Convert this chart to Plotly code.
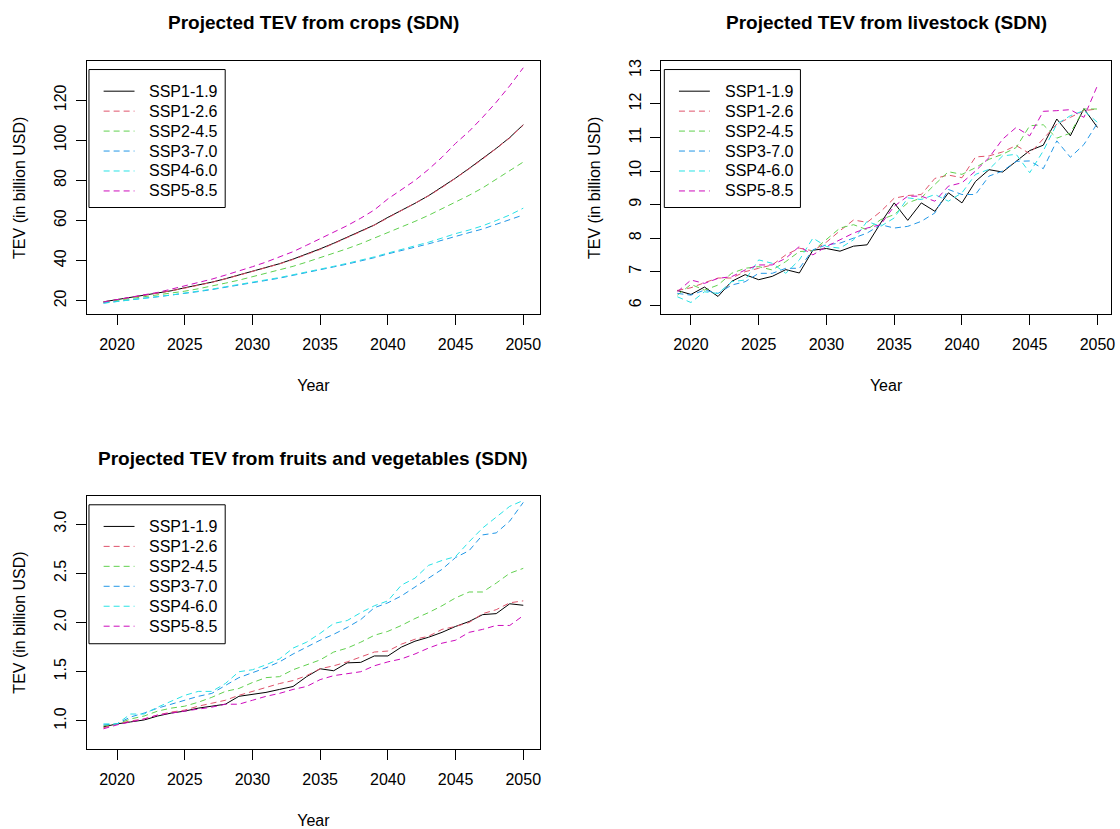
import plotly.graph_objects as go

years = list(range(2019, 2051))
scenarios = ["SSP1-1.9", "SSP1-2.6", "SSP2-4.5", "SSP3-7.0", "SSP4-6.0", "SSP5-8.5"]
colors = ["#000000", "#DF536B", "#61D04F", "#2297E6", "#28E2E5", "#CD0BBC"]
dashes = ["solid", "6px,4px", "6px,4px", "6px,4px", "6px,4px", "6px,4px"]

titles = ["Projected TEV from crops (SDN)",
          "Projected TEV from livestock (SDN)",
          "Projected TEV from fruits and vegetables (SDN)"]
x_title = "Year"
y_title = "TEV (in billion USD)"

# ---- crops ----
crops_ssp119 = [19.5, 20.6, 21.6, 22.6, 23.8, 25.0, 26.5, 27.8, 29.3, 31.0, 32.8, 34.6, 36.5, 38.5, 40.8, 43.2,
                45.9, 48.7, 51.6, 54.6, 57.8, 61.6, 65.0, 68.6, 72.4, 76.6, 81.2, 86.0, 90.8, 96.0, 101.4, 107.8]
crops_ssp126 = [19.4, 20.5, 21.5, 22.6, 23.7, 25.0, 26.3, 27.7, 29.2, 30.9, 32.7, 34.5, 36.4, 38.4, 40.6, 43.0,
                45.6, 48.5, 51.4, 54.5, 57.7, 61.3, 64.8, 68.4, 72.3, 76.5, 81.0, 85.8, 90.7, 95.8, 101.2, 107.6]
crops_ssp245 = [19.3, 20.2, 21.1, 22.0, 22.9, 23.8, 24.8, 26.0, 27.3, 28.8, 30.3, 32.0, 33.6, 35.3, 37.2, 39.3,
                41.5, 43.6, 46.0, 48.5, 51.2, 54.0, 56.7, 59.6, 62.6, 65.8, 69.2, 72.6, 76.3, 80.5, 84.6, 89.2]
crops_ssp370 = [18.9, 19.8, 20.6, 21.3, 22.0, 22.8, 23.6, 24.6, 25.6, 26.7, 27.8, 28.8, 30.0, 31.3, 32.7, 34.0,
                35.4, 36.9, 38.3, 39.8, 41.5, 43.4, 45.0, 46.7, 48.4, 50.2, 52.2, 54.0, 55.8, 58.0, 60.4, 62.8]
crops_ssp460 = [18.8, 19.7, 20.6, 21.3, 22.1, 22.9, 23.8, 24.7, 25.8, 27.0, 28.1, 29.2, 30.3, 31.6, 33.0, 34.3,
                35.7, 37.2, 38.7, 40.2, 41.9, 43.8, 45.5, 47.3, 49.2, 51.3, 53.5, 55.3, 57.4, 60.0, 62.8, 66.2]
crops_ssp585 = [19.4, 20.6, 21.7, 22.9, 24.2, 25.8, 27.5, 29.0, 30.8, 32.8, 34.8, 37.0, 39.3, 41.7, 44.5, 47.7,
                51.0, 54.0, 57.5, 61.2, 65.3, 70.8, 75.2, 80.0, 85.5, 91.6, 98.5, 104.5, 111.5, 119.0, 127.2, 136.2]

# ---- livestock ----
live_ssp119 = [6.44, 6.32, 6.54, 6.26, 6.71, 6.91, 6.76, 6.86, 7.06, 6.96, 7.64, 7.69, 7.61, 7.76, 7.80, 8.45,
               9.05, 8.53, 9.05, 8.80, 9.35, 9.05, 9.69, 10.04, 9.97, 10.29, 10.61, 10.77, 11.55, 11.05, 11.86, 11.30]
live_ssp126 = [6.44, 6.52, 6.67, 6.81, 6.81, 7.00, 7.10, 7.20, 7.50, 7.70, 7.62, 7.88, 8.22, 8.54, 8.47, 8.79,
               9.19, 9.27, 9.30, 9.78, 9.88, 9.80, 10.42, 10.45, 10.57, 10.76, 10.52, 10.96, 11.40, 11.60, 11.80, 11.85]
live_ssp245 = [6.30, 6.62, 6.45, 6.60, 6.95, 7.10, 7.15, 7.05, 7.30, 7.60, 7.62, 7.95, 8.30, 8.40, 8.25, 8.55,
               8.70, 9.05, 9.20, 9.60, 9.98, 9.90, 10.10, 10.35, 10.50, 10.70, 11.35, 11.38, 10.98, 11.13, 11.85, 11.85]
live_ssp370 = [6.35, 6.30, 6.45, 6.35, 6.60, 6.70, 6.95, 6.95, 7.10, 7.10, 7.65, 7.80, 7.85, 8.00, 8.15, 8.40,
               8.30, 8.35, 8.50, 8.75, 9.45, 9.30, 9.30, 9.85, 10.00, 10.29, 10.30, 10.07, 10.90, 10.41, 10.79, 11.43]
live_ssp460 = [6.25, 6.08, 6.40, 6.35, 6.70, 6.75, 7.35, 7.25, 6.95, 7.35, 8.00, 7.75, 7.70, 7.95, 8.50, 8.35,
               8.60, 9.20, 9.15, 9.30, 9.10, 9.35, 9.90, 10.05, 10.45, 10.50, 9.95, 10.60, 11.40, 11.65, 11.80, 11.45]
live_ssp585 = [6.40, 6.75, 6.65, 6.80, 6.85, 7.05, 7.20, 7.20, 7.40, 7.75, 7.50, 7.75, 7.95, 8.15, 8.30, 8.40,
               8.95, 9.25, 9.25, 9.10, 9.55, 9.65, 10.00, 10.40, 10.95, 11.30, 11.05, 11.78, 11.80, 11.83, 11.60, 12.55]

# ---- fruits and vegetables ----
fv_ssp119 = [0.94, 0.97, 0.99, 1.01, 1.05, 1.08, 1.10, 1.13, 1.15, 1.17, 1.25, 1.27, 1.29, 1.32, 1.35, 1.45,
             1.53, 1.51, 1.59, 1.595, 1.66, 1.66, 1.75, 1.81, 1.85, 1.90, 1.96, 2.01, 2.08, 2.09, 2.19, 2.175]
fv_ssp126 = [0.93, 0.97, 1.00, 1.02, 1.06, 1.09, 1.11, 1.15, 1.18, 1.21, 1.26, 1.30, 1.34, 1.38, 1.41, 1.46,
             1.53, 1.56, 1.60, 1.65, 1.70, 1.71, 1.78, 1.83, 1.86, 1.93, 1.96, 2.00, 2.09, 2.13, 2.20, 2.22]
fv_ssp245 = [0.95, 0.97, 1.02, 1.05, 1.10, 1.13, 1.15, 1.19, 1.24, 1.30, 1.33, 1.39, 1.44, 1.45, 1.52, 1.57,
             1.62, 1.70, 1.74, 1.80, 1.87, 1.91, 1.97, 2.04, 2.10, 2.17, 2.25, 2.31, 2.31, 2.40, 2.50, 2.55]
fv_ssp370 = [0.96, 0.97, 1.04, 1.08, 1.13, 1.17, 1.21, 1.25, 1.28, 1.36, 1.44, 1.49, 1.54, 1.60, 1.68, 1.75,
             1.82, 1.88, 1.95, 2.03, 2.15, 2.20, 2.27, 2.36, 2.45, 2.54, 2.66, 2.73, 2.89, 2.91, 3.03, 3.22]
fv_ssp460 = [0.97, 0.97, 1.07, 1.07, 1.14, 1.20, 1.26, 1.30, 1.30, 1.38, 1.50, 1.52, 1.57, 1.63, 1.74, 1.80,
             1.89, 1.99, 2.02, 2.10, 2.17, 2.22, 2.38, 2.45, 2.58, 2.63, 2.67, 2.82, 2.96, 3.07, 3.18, 3.24]
fv_ssp585 = [0.92, 0.96, 0.99, 1.02, 1.06, 1.08, 1.10, 1.12, 1.14, 1.17, 1.17, 1.21, 1.25, 1.28, 1.32, 1.35,
             1.42, 1.46, 1.48, 1.50, 1.56, 1.60, 1.63, 1.68, 1.74, 1.79, 1.82, 1.90, 1.93, 1.97, 1.97, 2.07]

panels = [
    [crops_ssp119, crops_ssp126, crops_ssp245, crops_ssp370, crops_ssp460, crops_ssp585],
    [live_ssp119, live_ssp126, live_ssp245, live_ssp370, live_ssp460, live_ssp585],
    [fv_ssp119, fv_ssp126, fv_ssp245, fv_ssp370, fv_ssp460, fv_ssp585],
]
y_ticks = [[20, 40, 60, 80, 100, 120], [6, 7, 8, 9, 10, 11, 12, 13], [1.0, 1.5, 2.0, 2.5, 3.0]]
y_tick_text = [[str(v) for v in y_ticks[0]], [str(v) for v in y_ticks[1]], ["%.1f" % v for v in y_ticks[2]]]
x_ticks = [2020, 2025, 2030, 2035, 2040, 2045, 2050]

W, H = 1120, 829
FONT = "Liberation Sans, Arial, sans-serif"

# plot boxes in pixels (left, right, top, bottom)
boxes = [(87, 542, 59.5, 313), (663.5, 1115, 59.5, 313), (87, 542, 495, 749)]
y_ranges = [[13.3, 139.4], [5.73, 13.27], [0.713, 3.287]]
x_ranges = [[2017.76, 2051.24], [2017.8, 2051.0], [2017.76, 2051.24]]
# legend boxes in pixels (left, top, right, bottom)
legend_boxes = [(89.3, 67.7, 226, 206), (666.7, 67.7, 803.3, 206), (89.3, 504, 226, 643.3)]

fig = go.Figure()
axis_ids = ["", "2", "3"]

for p, series in enumerate(panels):
    for s, vals in enumerate(series):
        fig.add_trace(go.Scatter(
            x=years, y=vals, mode="lines", name=scenarios[s],
            line=dict(color=colors[s], width=1, dash=dashes[s]),
            xaxis="x" + axis_ids[p], yaxis="y" + axis_ids[p],
            showlegend=False,
        ))

layout = dict(
    width=W, height=H,
    margin=dict(l=0, r=0, t=0, b=0),
    paper_bgcolor="white", plot_bgcolor="white",
    font=dict(family=FONT, size=16, color="#000000"),
)

annotations = []
shapes = []
for p in range(3):
    l, r, t, b = boxes[p]
    ax_common = dict(showgrid=False, zeroline=False, showline=True, mirror=True,
                     linecolor="#000000", linewidth=1, ticks="outside", ticklen=10,
                     tickcolor="#000000", tickwidth=1,
                     tickfont=dict(family=FONT, size=16, color="#000000"))
    xa = dict(ax_common, domain=[l / W, r / W], range=x_ranges[p],
              tickmode="array", tickvals=x_ticks, ticktext=[str(v) for v in x_ticks],
              anchor="y" + axis_ids[p], ticklabelstandoff=6,
              title=dict(text=x_title, font=dict(family=FONT, size=16, color="#000000"), standoff=27))
    ya = dict(ax_common, domain=[1 - b / H, 1 - t / H], range=y_ranges[p],
              tickmode="array", tickvals=y_ticks[p], ticktext=y_tick_text[p], tickangle=-90,
              anchor="x" + axis_ids[p], ticklabelstandoff=3,
              title=dict(text=y_title, font=dict(family=FONT, size=16, color="#000000"), standoff=22))
    layout["xaxis" + axis_ids[p]] = xa
    layout["yaxis" + axis_ids[p]] = ya

    # legend (R-style box legend)
    lx0, ly0, lx1, ly1 = legend_boxes[p]
    shapes.append(dict(type="rect", xref="paper", yref="paper",
                       x0=lx0 / W, x1=lx1 / W, y0=1 - ly1 / H, y1=1 - ly0 / H,
                       line=dict(color="#000000", width=1), fillcolor="white", layer="above"))
    for s, name in enumerate(scenarios):
        ry = ly0 + 21.7 + 20.0 * s
        shapes.append(dict(type="line", xref="paper", yref="paper",
                           x0=(lx0 + 14.7) / W, x1=(lx0 + 45.7) / W, y0=1 - ry / H, y1=1 - ry / H,
                           line=dict(color=colors[s], width=1, dash=dashes[s]), layer="above"))
        annotations.append(dict(text=name, xref="paper", yref="paper",
                                x=(lx0 + 58.5) / W, y=1 - ry / H, xanchor="left", yanchor="middle",
                                showarrow=False, font=dict(family=FONT, size=16, color="#000000")))

    title_y = 20.5 if p < 2 else 457.5
    annotations.append(dict(
        text=titles[p], xref="paper", yref="paper",
        x=(l + r) / 2 / W, y=1 - title_y / H, xanchor="center", yanchor="middle",
        showarrow=False, font=dict(family=FONT, size=19, color="#000000", weight="bold"),
    ))

layout["annotations"] = annotations
layout["shapes"] = shapes
fig.update_layout(**layout)
fig.write_html("out.html", config={"displayModeBar": False},
               post_script="document.body.style.margin='0';")
